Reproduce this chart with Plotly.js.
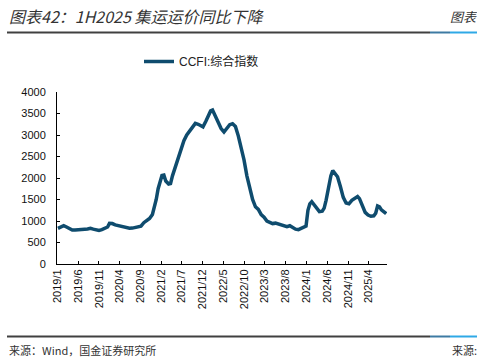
<!DOCTYPE html>
<html><head><meta charset="utf-8">
<script src="https://cdn.plot.ly/plotly-3.0.1.min.js"></script>
<style>body{margin:0;background:#fff}#c{width:477px;height:362px}</style>
</head><body><div id="c"></div>
<script>
const dates = ["2019-01-04","2019-01-25","2019-02-15","2019-03-08","2019-03-29","2019-04-19","2019-05-10","2019-06-07","2019-06-28","2019-07-19","2019-08-09","2019-08-30","2019-09-20","2019-10-11","2019-11-01","2019-11-22","2019-12-13","2020-01-03","2020-01-17","2020-02-07","2020-02-28","2020-03-20","2020-04-10","2020-05-01","2020-05-22","2020-06-12","2020-07-03","2020-07-24","2020-08-14","2020-09-04","2020-09-25","2020-10-16","2020-11-06","2020-11-27","2020-12-11","2020-12-25","2021-01-08","2021-01-22","2021-02-05","2021-02-19","2021-03-05","2021-03-26","2021-04-09","2021-04-23","2021-05-14","2021-06-04","2021-06-25","2021-07-16","2021-08-06","2021-08-27","2021-09-17","2021-10-08","2021-10-29","2021-11-19","2021-12-03","2021-12-24","2022-01-14","2022-01-28","2022-02-11","2022-03-04","2022-03-25","2022-04-15","2022-05-06","2022-05-27","2022-06-17","2022-07-08","2022-07-29","2022-08-19","2022-09-09","2022-09-30","2022-10-21","2022-11-11","2022-12-02","2022-12-23","2023-01-13","2023-02-03","2023-02-24","2023-03-17","2023-04-07","2023-04-28","2023-05-19","2023-06-09","2023-06-30","2023-07-21","2023-08-11","2023-09-01","2023-09-22","2023-10-13","2023-11-03","2023-11-24","2023-12-15","2023-12-29","2024-01-12","2024-01-26","2024-02-09","2024-02-23","2024-03-15","2024-04-05","2024-04-26","2024-05-10","2024-05-24","2024-06-14","2024-06-28","2024-07-12","2024-07-26","2024-08-16","2024-09-06","2024-09-27","2024-10-18","2024-11-08","2024-11-29","2024-12-20","2025-01-10","2025-01-24","2025-02-14","2025-03-07","2025-03-28","2025-04-18","2025-05-09","2025-05-23","2025-06-06","2025-06-20","2025-07-04","2025-07-25","2025-08-08"];
const ccfi = [830,860,890,860,820,790,790,790,800,810,815,830,810,790,780,800,830,860,945,940,910,890,870,850,830,830,835,850,860,880,960,1000,1060,1150,1300,1500,1750,1950,2060,2070,1930,1860,1870,2050,2270,2500,2700,2870,3000,3100,3200,3270,3250,3210,3190,3320,3480,3560,3580,3450,3300,3150,3070,3150,3240,3260,3200,2980,2700,2420,2050,1750,1500,1330,1270,1150,1090,1000,960,940,950,930,900,880,870,890,850,810,800,830,860,880,1250,1400,1450,1400,1320,1220,1230,1300,1480,1870,2050,2170,2120,2030,1800,1550,1420,1400,1480,1530,1570,1520,1330,1200,1140,1110,1120,1180,1350,1330,1260,1210,1170];
const tickDates = ["2019-01-01","2019-06-01","2019-11-01","2020-04-01","2020-09-01","2021-02-01","2021-07-01","2021-12-01","2022-05-01","2022-10-01","2023-03-01","2023-08-01","2024-01-01","2024-06-01","2024-11-01","2025-04-01"];
const tickLabels = ["2019/1","2019/6","2019/11","2020/4","2020/9","2021/2","2021/7","2021/12","2022/5","2022/10","2023/3","2023/8","2024/1","2024/6","2024/11","2025/4"];
const seriesName = "CCFI:综合指数";
const titleText = "图表42：1H2025 集运运价同比下降";
const sourceText = "来源：Wind，国金证券研究所";

const W=477,H=362,L=57,R=90,T=92,B=98;
const pw=W-L-R, ph=H-T-B;
const px=x=>(x-L)/pw, py=y=>(H-B-y)/ph;
const rule=(x0,x1,y,c,w)=>({type:'line',xref:'paper',yref:'paper',x0:px(x0),x1:px(x1),y0:py(y),y1:py(y),line:{color:c,width:w}});
const cjk='"Noto Sans CJK SC", sans-serif';

Plotly.newPlot('c',[{
  x:dates,y:ccfi,type:'scatter',mode:'lines',name:seriesName,
  line:{color:'#0f4c6e',width:3.5}
}],{
  width:W,height:H,margin:{l:L,r:R,t:T,b:B},
  paper_bgcolor:'#fff',plot_bgcolor:'#fff',
  showlegend:true,
  legend:{orientation:'h',x:px(139),y:py(47),xanchor:'left',yanchor:'top',font:{family:'"Liberation Sans", '+cjk,size:12,color:'#222'},bgcolor:'rgba(0,0,0,0)'},
  xaxis:{type:'date',range:['2018-12-28','2025-08-14'],tickmode:'array',tickvals:tickDates,ticktext:tickLabels,
    tickangle:-90,ticks:'inside',ticklen:3,tickcolor:'#000',showline:true,linecolor:'#000',linewidth:1,showgrid:false,zeroline:false,
    tickfont:{family:'"Liberation Sans", Arial, sans-serif',size:11,color:'#111'}},
  yaxis:{range:[0,4000],tickvals:[0,500,1000,1500,2000,2500,3000,3500,4000],ticks:'inside',ticklen:3,tickcolor:'#000',
    showline:true,linecolor:'#000',linewidth:1,showgrid:false,zeroline:false,ticklabelstandoff:8,
    tickfont:{family:'"Liberation Sans", Arial, sans-serif',size:11,color:'#111'}},
  shapes:[
    rule(7,430,32.5,'#404040',2), rule(430,450,32.5,'#3d7aa3',2), rule(450,477,32.5,'#2fa9e6',2),
    rule(7,430,336.5,'#404040',2), rule(430,450,336.5,'#3d7aa3',2), rule(450,477,336.5,'#2fa9e6',2)
  ],
  annotations:[
    {xref:'paper',yref:'paper',x:px(7),y:py(16),xanchor:'left',yanchor:'middle',showarrow:false,text:'<i>'+titleText+'</i>',font:{family:cjk,size:16,color:'#333'}},
    {xref:'paper',yref:'paper',x:px(448),y:py(16),xanchor:'left',yanchor:'middle',showarrow:false,text:'<i>图表</i>',font:{family:cjk,size:13,color:'#333'}},
    {xref:'paper',yref:'paper',x:px(7),y:py(350),xanchor:'left',yanchor:'middle',showarrow:false,text:sourceText,font:{family:'"Noto Sans CJK SC", monospace',size:11,color:'#333'}},
    {xref:'paper',yref:'paper',x:px(450),y:py(350),xanchor:'left',yanchor:'middle',showarrow:false,text:'来源:',font:{family:cjk,size:11,color:'#333'}}
  ]
},{displayModeBar:false,staticPlot:true});
</script></body></html>
